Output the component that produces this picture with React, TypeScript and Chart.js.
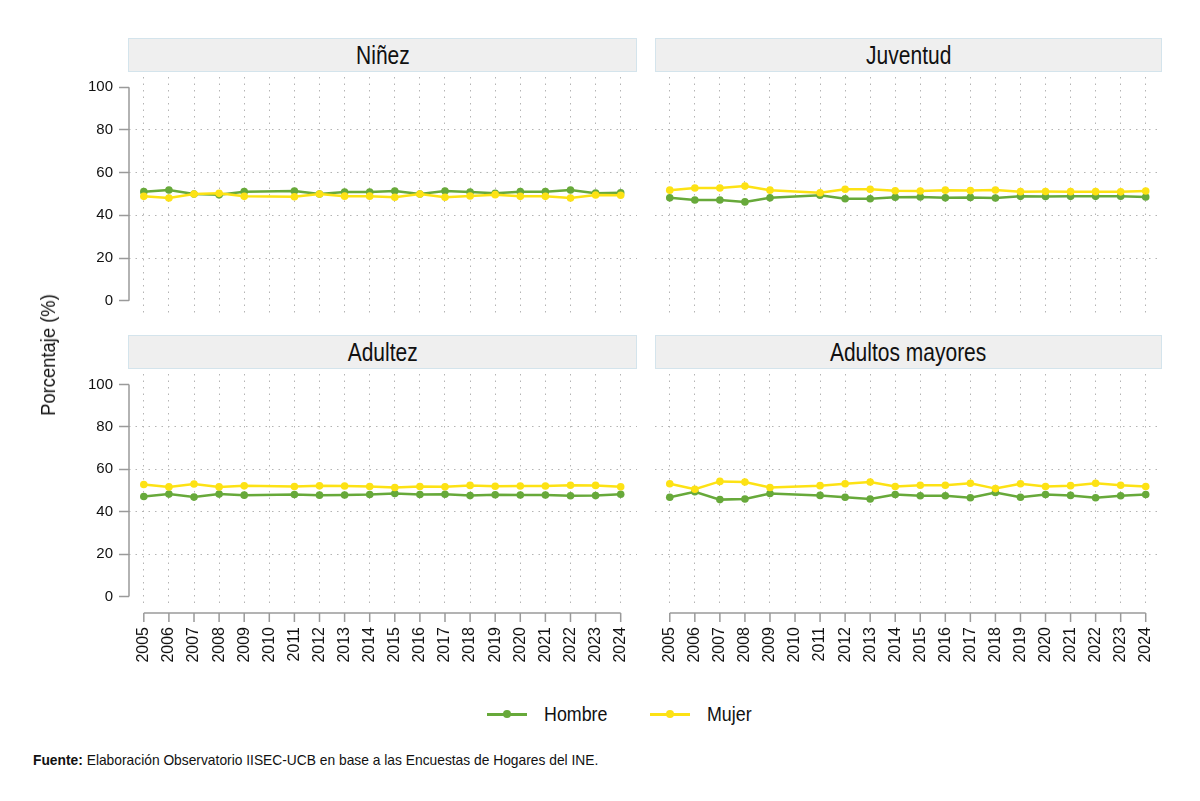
import React, { useEffect, useRef } from 'react';
import { Chart, registerables } from 'chart.js';

Chart.register(...registerables);

// Axis categories and ticks
const years = [2005, 2006, 2007, 2008, 2009, 2010, 2011, 2012, 2013, 2014, 2015, 2016, 2017, 2018, 2019, 2020, 2021, 2022, 2023, 2024];
// No survey in 2010: the series skip that year
const surveyYears = [2005, 2006, 2007, 2008, 2009, 2011, 2012, 2013, 2014, 2015, 2016, 2017, 2018, 2019, 2020, 2021, 2022, 2023, 2024];
const yTicks = [0, 20, 40, 60, 80, 100];

// Share of population by sex (%), per age group
const ninezHombre = [51.1, 51.9, 50.0, 49.6, 51.1, 51.4, 50.0, 50.9, 50.9, 51.4, 50.0, 51.4, 50.9, 50.3, 51.1, 51.1, 51.9, 50.4, 50.6];
const ninezMujer = [48.9, 48.1, 50.0, 50.3, 48.9, 48.7, 50.0, 49.0, 49.0, 48.5, 50.0, 48.5, 49.1, 49.7, 48.9, 48.9, 48.1, 49.5, 49.4];

const juventudHombre = [48.2, 47.2, 47.2, 46.3, 48.2, 49.4, 47.8, 47.8, 48.5, 48.6, 48.2, 48.4, 48.1, 48.9, 48.8, 48.9, 48.9, 49.0, 48.6];
const juventudMujer = [51.8, 52.8, 52.8, 53.7, 51.8, 50.6, 52.2, 52.2, 51.5, 51.4, 51.8, 51.6, 51.9, 51.1, 51.2, 51.1, 51.1, 51.0, 51.4];

const adultezHombre = [47.2, 48.3, 46.9, 48.3, 47.8, 48.1, 47.8, 47.9, 48.1, 48.6, 48.1, 48.2, 47.6, 48.0, 47.9, 47.9, 47.5, 47.6, 48.2];
const adultezMujer = [52.8, 51.7, 53.1, 51.7, 52.2, 51.9, 52.2, 52.1, 51.9, 51.4, 51.9, 51.8, 52.4, 52.0, 52.1, 52.1, 52.5, 52.4, 51.8];

const mayoresHombre = [46.8, 49.4, 45.7, 46.0, 48.6, 47.7, 46.8, 46.0, 48.1, 47.5, 47.5, 46.6, 49.1, 46.8, 48.1, 47.7, 46.6, 47.5, 48.1];
const mayoresMujer = [53.2, 50.6, 54.3, 54.0, 51.4, 52.3, 53.2, 54.0, 51.9, 52.5, 52.5, 53.4, 50.9, 53.2, 51.9, 52.3, 53.4, 52.5, 51.9];

const panelTitles = ['Niñez', 'Juventud', 'Adultez', 'Adultos mayores'];
const seriesNames = ['Hombre', 'Mujer'];

const HOMBRE_COLOR = '#67a93a';
const MUJER_COLOR = '#fde214';
const GRID_COLOR = '#b4b4b4';
const AXIS_COLOR = '#9a9a9a';
const TEXT_COLOR = '#111111';
const FONT = "'Liberation Sans Narrow', 'Arial Narrow', 'Liberation Sans', Arial, sans-serif";

type PanelSpec = {
  title: string;
  hombre: number[];
  mujer: number[];
  col: number;
  row: number;
};

const panels: PanelSpec[] = [
  { title: panelTitles[0], hombre: ninezHombre, mujer: ninezMujer, col: 0, row: 0 },
  { title: panelTitles[1], hombre: juventudHombre, mujer: juventudMujer, col: 1, row: 0 },
  { title: panelTitles[2], hombre: adultezHombre, mujer: adultezMujer, col: 0, row: 1 },
  { title: panelTitles[3], hombre: mayoresHombre, mujer: mayoresMujer, col: 1, row: 1 },
];

const toPoints = (values: number[]) => surveyYears.map((yr, i) => ({ x: yr, y: values[i] }));

// Axis lines that only span the data range (0–100 and 2005–2024), with outward ticks on x
const rangeAxes = {
  id: 'rangeAxes',
  afterDraw(chart: any, _args: any, opts: any) {
    const { ctx, chartArea, scales } = chart;
    const xs = scales.x;
    const ys = scales.y;
    ctx.save();
    ctx.strokeStyle = AXIS_COLOR;
    ctx.lineWidth = 1.5;
    ctx.setLineDash([]);
    if (opts.showY) {
      const x = chartArea.left;
      ctx.beginPath();
      ctx.moveTo(x, ys.getPixelForValue(yTicks[0]));
      ctx.lineTo(x, ys.getPixelForValue(yTicks[yTicks.length - 1]));
      ctx.stroke();
    }
    if (opts.showX) {
      const y = chartArea.bottom + 8;
      ctx.beginPath();
      ctx.moveTo(xs.getPixelForValue(years[0]), y);
      ctx.lineTo(xs.getPixelForValue(years[years.length - 1]), y);
      years.forEach((yr) => {
        const px = xs.getPixelForValue(yr);
        ctx.moveTo(px, y);
        ctx.lineTo(px, y + 9);
      });
      ctx.stroke();
    }
    ctx.restore();
  },
};

function Panel({ spec }: { spec: PanelSpec }) {
  const ref = useRef<HTMLCanvasElement | null>(null);
  const showY = spec.col === 0;
  const showX = spec.row === 1;
  const plot = {
    left: spec.col === 0 ? 129 : 655,
    right: spec.col === 0 ? 637 : 1162,
    top: spec.row === 0 ? 77 : 374,
    bottom: spec.row === 0 ? 314 : 605,
  };
  const yMin = spec.row === 0 ? -6.2 : -4.0;
  const yMax = spec.row === 0 ? 104.8 : 104.95;
  const PADL = 80;
  const PADT = 15;
  const PADR = 36;
  const PADB = showX ? 80 : 15;
  const Y_W = showY ? 70 : 0;
  const X_H = showX ? 70 : 0;
  const width = plot.right - plot.left + PADL + PADR;
  const height = plot.bottom - plot.top + PADT + PADB;

  useEffect(() => {
    if (!ref.current) return;
    const chart = new Chart(ref.current, {
      type: 'line',
      data: {
        datasets: [
          {
            label: seriesNames[0],
            data: toPoints(spec.hombre),
            borderColor: HOMBRE_COLOR,
            backgroundColor: HOMBRE_COLOR,
            borderWidth: 2.5,
            pointRadius: 3.8,
            pointBorderWidth: 0,
            pointBackgroundColor: HOMBRE_COLOR,
            tension: 0,
            order: 1,
          },
          {
            label: seriesNames[1],
            data: toPoints(spec.mujer),
            borderColor: MUJER_COLOR,
            backgroundColor: MUJER_COLOR,
            borderWidth: 2.5,
            pointRadius: 3.8,
            pointBorderWidth: 0,
            pointBackgroundColor: MUJER_COLOR,
            tension: 0,
            order: 0,
          },
        ],
      },
      options: {
        responsive: false,
        animation: false,
        devicePixelRatio: 1,
        layout: {
          padding: { left: PADL - Y_W, top: PADT, right: PADR, bottom: PADB - X_H },
        },
        plugins: {
          legend: { display: false },
          tooltip: { enabled: false },
          title: { display: false },
          rangeAxes: { showX, showY },
        } as any,
        scales: {
          x: {
            type: 'linear',
            min: 2004.41,
            max: 2024.65,
            afterBuildTicks: (s: any) => {
              s.ticks = years.map((v) => ({ value: v }));
            },
            afterFit: (s: any) => {
              s.height = X_H;
            },
            ticks: {
              display: showX,
              autoSkip: false,
              minRotation: 90,
              maxRotation: 90,
              padding: 22,
              color: TEXT_COLOR,
              font: { family: FONT, size: 16 },
              callback: (v: any) => String(v),
            },
            grid: {
              color: GRID_COLOR,
              lineWidth: 1,
              drawTicks: false,
            },
            border: { display: false, dash: [1.5, 5] },
          },
          y: {
            min: yMin,
            max: yMax,
            afterBuildTicks: (s: any) => {
              s.ticks = yTicks.map((v) => ({ value: v }));
            },
            afterFit: (s: any) => {
              s.width = Y_W;
            },
            ticks: {
              display: showY,
              padding: 6,
              color: TEXT_COLOR,
              font: { family: FONT, size: 15 },
              callback: (v: any) => String(v),
            },
            grid: {
              color: (c: any) =>
                c.tick && (c.tick.value === yTicks[0] || c.tick.value === yTicks[yTicks.length - 1])
                  ? 'rgba(0,0,0,0)'
                  : GRID_COLOR,
              lineWidth: 1,
              drawTicks: showY,
              tickLength: 10,
              tickColor: AXIS_COLOR,
              tickWidth: 1.5,
              tickBorderDash: [],
            },
            border: { display: false, dash: [1.5, 5] },
          },
        },
      },
      plugins: [rangeAxes],
    } as any);
    return () => chart.destroy();
  }, [spec]);

  const headerLeft = spec.col === 0 ? 128 : 655;
  const headerRight = spec.col === 0 ? 637 : 1162;
  const headerTop = spec.row === 0 ? 38 : 335;

  return (
    <>
      <div
        style={{
          position: 'absolute',
          left: headerLeft,
          top: headerTop,
          width: headerRight - headerLeft,
          height: 34,
          boxSizing: 'border-box',
          background: '#efefef',
          border: '1.5px solid #d4e4ec',
          display: 'flex',
          alignItems: 'center',
          justifyContent: 'center',
          fontFamily: FONT,
          fontSize: 25,
          color: TEXT_COLOR,
        }}
      >
        <span style={{ display: 'inline-block', transform: 'scaleX(0.84)', whiteSpace: 'nowrap' }}>
          {spec.title}
        </span>
      </div>
      <canvas
        ref={ref}
        width={width}
        height={height}
        style={{ position: 'absolute', left: plot.left - PADL, top: plot.top - PADT, width, height }}
      />
    </>
  );
}

function LegendItem({ label, color, left }: { label: string; color: string; left: number }) {
  return (
    <div style={{ position: 'absolute', left, top: 702, height: 24, display: 'flex', alignItems: 'center' }}>
      <div style={{ position: 'relative', width: 40, height: 24 }}>
        <div style={{ position: 'absolute', left: 0, top: 11, width: 40, height: 2.5, background: color }} />
        <div
          style={{
            position: 'absolute',
            left: 16,
            top: 8,
            width: 8,
            height: 8,
            borderRadius: '50%',
            background: color,
          }}
        />
      </div>
      <span
        style={{
          marginLeft: 17,
          fontFamily: FONT,
          fontSize: 21,
          color: TEXT_COLOR,
          display: 'inline-block',
          transform: 'scaleX(0.85)',
          transformOrigin: 'left center',
          whiteSpace: 'nowrap',
        }}
      >
        {label}
      </span>
    </div>
  );
}

export default function App() {
  return (
    <div
      style={{
        position: 'absolute',
        left: 0,
        top: 0,
        width: 1200,
        height: 801,
        background: '#ffffff',
        overflow: 'hidden',
      }}
    >
      {panels.map((p) => (
        <Panel key={p.title} spec={p} />
      ))}
      <div
        style={{
          position: 'absolute',
          left: 48,
          top: 355,
          transform: 'translate(-50%, -50%) rotate(-90deg) scaleX(0.875)',
          whiteSpace: 'nowrap',
          fontFamily: FONT,
          fontSize: 21,
          color: TEXT_COLOR,
        }}
      >
        Porcentaje (%)
      </div>
      <LegendItem label={seriesNames[0]} color={HOMBRE_COLOR} left={487} />
      <LegendItem label={seriesNames[1]} color={MUJER_COLOR} left={650} />
      <div
        style={{
          position: 'absolute',
          left: 33,
          top: 751,
          whiteSpace: 'nowrap',
          fontFamily: FONT,
          fontSize: 15,
          color: TEXT_COLOR,
          transform: 'scaleX(0.92)',
          transformOrigin: 'left center',
        }}
      >
        <b>Fuente:</b> Elaboración Observatorio IISEC-UCB en base a las Encuestas de Hogares del INE.
      </div>
    </div>
  );
}
